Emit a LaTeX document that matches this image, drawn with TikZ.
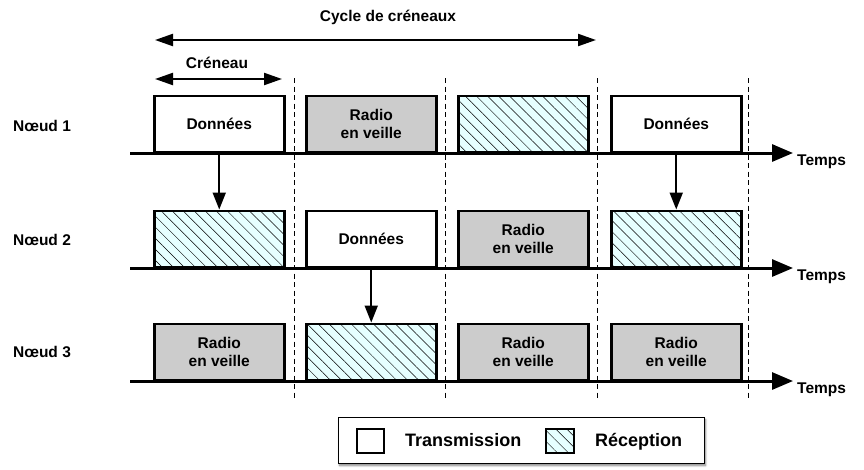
\documentclass[tikz,border=0pt]{standalone}
\usepackage{fontspec}
\setmainfont{Liberation Sans}
\usetikzlibrary{arrows.meta,patterns.meta,shadows.blur}
\definecolor{sleepgray}{HTML}{CCCCCC}
\definecolor{rxcyan}{HTML}{E6FFFF}
\tikzset{
  lbl/.style={font=\fontsize{15.5}{18}\selectfont\bfseries, inner sep=0pt},
  legtext/.style={font=\fontsize{18}{20}\selectfont\bfseries, inner sep=0pt, anchor=base west},
  slot/.style={draw, line width=2.5pt, minimum width=130pt, minimum height=56pt,
    anchor=south west, inner sep=0pt, align=center,
    font=\fontsize{15.5}{18}\selectfont\bfseries},
  txbox/.style={slot, fill=white},
  sleepbox/.style={slot, fill=sleepgray},
  hatch/.style={fill=rxcyan, postaction={pattern={Lines[angle=-45,distance=7.8pt,line width=0.5pt]}, pattern color=black}},
  rxbox/.style={slot, hatch},
  axisline/.style={line width=3pt, -{Triangle[length=21pt,width=17pt]}},
  msg/.style={line width=2pt, -{Triangle[length=17pt,width=13pt]}},
  span/.style={line width=2.2pt, {Triangle[length=18pt,width=12pt]}-{Triangle[length=18pt,width=12pt]}},
  sep/.style={line width=0.9pt, dash pattern=on 5pt off 3.5pt},
}
\begin{document}
\begin{tikzpicture}[x=1pt,y=-1pt]
\useasboundingbox (0,0) rectangle (864,469);
% separators
\foreach \x in {294,445,597,748}{
  \draw[sep] (\x,78) -- (\x,400);
}
% span arrows
\coordinate (cyA) at (155,40);
\coordinate (cyB) at (596,40);
\draw[span] (cyA) -- (cyB);
\node[lbl] (cyl) at (388,17) {Cycle de créneaux};
\coordinate (crA) at (155,79);
\coordinate (crB) at (282,79);
\draw[span] (crA) -- (crB);
\node[lbl] (crl) at (217,63) {Créneau};
% row labels
\node[lbl, anchor=west] (n1) at (13,126) {Nœud 1};
\node[lbl, anchor=west] (n2) at (13,240) {Nœud 2};
\node[lbl, anchor=west] (n3) at (13,352) {Nœud 3};
% boxes row 1
\node[txbox] (b11) at (153,153) {Données};
\node[sleepbox] (b12) at (305,153) {Radio\\en veille};
\node[rxbox] (b13) at (457,153) {};
\node[txbox] (b14) at (610,153) {Données};
% row 2
\node[rxbox] (b21) at (153,268) {};
\node[txbox] (b22) at (305,268) {Données};
\node[sleepbox] (b23) at (457,268) {Radio\\en veille};
\node[rxbox] (b24) at (610,268) {};
% row 3
\node[sleepbox] (b31) at (153,381) {Radio\\en veille};
\node[rxbox] (b32) at (305,381) {};
\node[sleepbox] (b33) at (457,381) {Radio\\en veille};
\node[sleepbox] (b34) at (610,381) {Radio\\en veille};
% axes
\foreach \r/\y in {1/153,2/268,3/381}{
  \coordinate (ax\r s) at (130,\y);
  \coordinate (ax\r e) at (793,\y);
  \draw[axisline] (ax\r s) -- (ax\r e);
  \node[lbl, anchor=west] (t\r) at (797,\y+9) {Temps};
}
% messages
\draw[msg] (b11.south) -- (b21.north);
\draw[msg] (b14.south) -- (b24.north);
\draw[msg] (b22.south) -- (b32.north);
% legend
\node[draw, line width=1pt, fill=white, minimum width=366pt, minimum height=46pt,
  blur shadow={shadow xshift=1.5pt, shadow yshift=-2.5pt, shadow blur steps=6, shadow opacity=50}] (leg) at (521,440) {};
\node[draw, line width=2.5pt, fill=white, minimum width=27pt, minimum height=24pt, inner sep=0pt] (legtx) at (370.5,441) {};
\node[legtext] (legtxl) at (405,446.5) {Transmission};
\node[draw, line width=2.5pt, hatch, minimum width=28pt, minimum height=24pt, inner sep=0pt] (legrx) at (560,441) {};
\node[legtext] (legrxl) at (595,446.5) {Réception};
\end{tikzpicture}
\end{document}
